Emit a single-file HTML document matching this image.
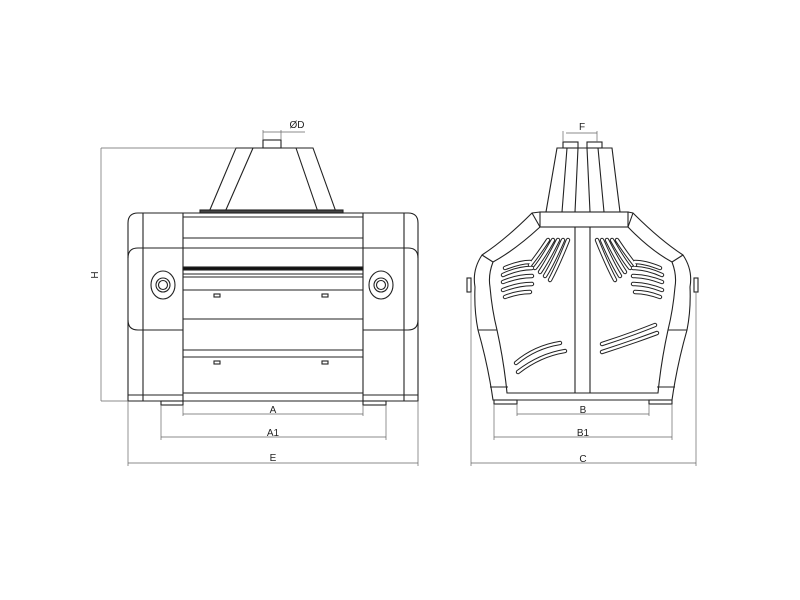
<!DOCTYPE html>
<html><head><style>body{margin:0;background:#fff}svg{display:block}</style></head><body>
<svg width="800" height="600" viewBox="0 0 800 600" xmlns="http://www.w3.org/2000/svg" font-family="Liberation Sans, sans-serif" font-size="10">
<rect width="800" height="600" fill="#fff"/>
<defs>
<g id="vents">
<path d="M548 240 Q538 255 530 265 M553 240 Q543 258 535 268 M558 240 Q548 260 540 272 M563 240 Q553 263 545 276 M568 240 Q558 265 550 280"/>
<path d="M505 268 Q520 262 530 262 M503 275 Q518 268 532 268 M503 282 Q518 276 532 276 M503 290 Q518 284 532 284 M505 297 Q518 292 530 292"/>
<path d="M617 240 Q627 255 635 265 M612 240 Q622 258 630 268 M607 240 Q617 260 625 272 M602 240 Q612 263 620 276 M597 240 Q607 265 615 280"/>
<path d="M660 268 Q645 262 635 262 M662 275 Q647 268 633 268 M662 282 Q647 276 633 276 M662 290 Q647 284 633 284 M660 297 Q647 292 635 292"/>
<path d="M516 363 Q535 347 560 343 M518 372 Q540 355 565 351"/>
<path d="M602 344 Q630 335 655 325 M602 352 Q630 343 657 333"/>
</g>
</defs>
<g fill="none" stroke="#222" stroke-width="1.1">
<!-- LEFT VIEW -->
<path d="M236 148 L313 148 L336 212 L209 212 Z"/>
<path d="M253 148 L225 212 M296 148 L318 212"/>
<rect x="263" y="140" width="18" height="8"/>
<rect x="200" y="210" width="143" height="3" fill="#444"/>
<path d="M138 213 H408 Q418 213 418 223 V401 H128 V223 Q128 213 138 213 Z"/>
<path d="M143 213 V401 M183 213 V401 M363 213 V401 M404 213 V401"/>
<path d="M183 217 H363 M183 238 H363 M183 248 H363 M183 274 H363 M183 277 H363 M183 290 H363 M183 319 H363 M183 350 H363 M183 357 H363 M183 393 H363"/>
<rect x="183" y="267" width="180" height="3" fill="#111"/>
<path d="M128 258 Q128 248 138 248 H183 M128 320 Q128 330 138 330 H183"/>
<path d="M418 258 Q418 248 408 248 H363 M418 320 Q418 330 408 330 H363"/>
<path d="M128 395 H183 M363 395 H418"/>
<ellipse cx="163" cy="285" rx="12" ry="14"/><circle cx="163" cy="285" r="7"/><circle cx="163" cy="285" r="4.5"/>
<ellipse cx="381" cy="285" rx="12" ry="14"/><circle cx="381" cy="285" r="7"/><circle cx="381" cy="285" r="4.5"/>
<rect x="214" y="294" width="6" height="3"/><rect x="322" y="294" width="6" height="3"/>
<rect x="214" y="361" width="6" height="3"/><rect x="322" y="361" width="6" height="3"/>
<rect x="161" y="401" width="22" height="4"/><rect x="363" y="401" width="23" height="4"/>

<!-- RIGHT VIEW -->
<path d="M557 148 L612 148 L620 212 L546 212 Z"/>
<path d="M567 148 L562 212 M578 148 L575 212 M587 148 L590 212 M598 148 L604 212"/>
<rect x="563" y="142" width="15" height="6"/><rect x="587" y="142" width="15" height="6"/>
<rect x="540" y="212" width="88" height="15"/>
<path d="M540 212 L532 213 Q505 240 482 255 Q472 270 475 287 Q474 310 478 330 Q488 365 493 400 H672 Q677 365 687 330 Q691 310 690 287 Q693 270 683 255 Q660 240 633 213 L628 212"/>
<path d="M540 227 Q515 250 493 262 Q488 275 490 287 Q492 310 497 330 Q504 362 507 393 H658 Q661 362 668 330 Q673 310 675 287 Q677 275 672 262 Q650 250 628 227"/>
<path d="M532 213 L540 227 M633 213 L628 227 M482 255 L493 262 M683 255 L672 262 M478 330 L497 330 M687 330 L668 330 M490 387 L508 387 M675 387 L657 387"/>
<path d="M575 227 V393 M590 227 V393"/>
<rect x="494" y="400" width="23" height="4"/><rect x="649" y="400" width="23" height="4"/>
<rect x="467" y="278" width="4" height="14"/><rect x="694" y="278" width="4" height="14"/>
</g>
<use href="#vents" fill="none" stroke="#222" stroke-width="4.4" stroke-linecap="round"/>
<use href="#vents" fill="none" stroke="#fff" stroke-width="2.4" stroke-linecap="round"/>
<!-- dimensions -->
<g fill="none" stroke="#666" stroke-width="0.7">
<path d="M101 148 H236 M101 401 H128 M101 148 V401"/>
<path d="M263 140 V130 M281 140 V130 M263 132 H281 M281 132 H305"/>
<path d="M183 405 V416 M363 405 V416 M183 414 H363"/>
<path d="M161 405 V440 M386 405 V440 M161 437 H386"/>
<path d="M128 401 V466 M418 401 V466 M128 463 H418"/>
<path d="M563 142 V131 M597 142 V131 M566 133 H597"/>
<path d="M517 404 V416 M649 404 V416 M517 414 H649"/>
<path d="M494 404 V440 M672 404 V440 M494 437 H672"/>
<path d="M471 292 V466 M696 292 V466 M471 463 H696"/>
</g>
<g fill="#222" font-size="10" text-anchor="middle">
<text x="297" y="128">ØD</text>
<text x="582" y="130">F</text>
<text x="273" y="413">A</text>
<text x="273" y="436">A1</text>
<text x="273" y="461">E</text>
<text x="583" y="413">B</text>
<text x="583" y="436">B1</text>
<text x="583" y="462">C</text>
<text x="0" y="0" transform="translate(98 275) rotate(-90)">H</text>
</g>
</svg>
</body></html>
